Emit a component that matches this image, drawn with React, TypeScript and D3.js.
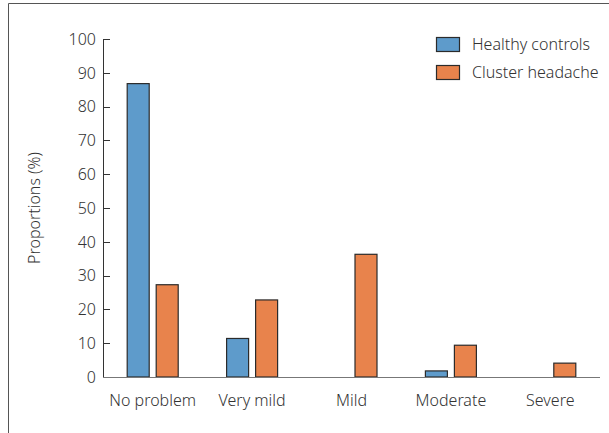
import React from "react";
import * as d3 from "d3";

const categories = ["No problem", "Very mild", "Mild", "Moderate", "Severe"];
const seriesNames = ["Healthy controls", "Cluster headache"];
const healthyControls = [86.8, 11.4, 0, 1.8, 0];
const clusterHeadache = [27.3, 22.8, 36.3, 9.4, 4.1];
const yTicks = [0, 10, 20, 30, 40, 50, 60, 70, 80, 90, 100];
const colors = ["#5E9BCB", "#E8834C"];

const W = 609;
const H = 433;
const FONT = "'Noto Sans', sans-serif";

export default function App() {
  const x0 = d3.scaleBand<string>().domain(categories).range([103, 600]).paddingInner(0).paddingOuter(0);
  const y = d3.scaleLinear().domain([0, 100]).range([377, 39]);
  const barW = 22;
  const gap = 7;
  const series = [healthyControls, clusterHeadache];

  return (
    <svg width={W} height={H} style={{ position: "absolute", left: 0, top: 0 }} fontFamily={FONT}>
      <rect x={0} y={0} width={W} height={H} fill="#fff" />
      {/* frame */}
      <line x1={8.5} y1={3.5} x2={W} y2={3.5} stroke="#555" strokeWidth={1} />
      <line x1={8.5} y1={3.5} x2={8.5} y2={H} stroke="#555" strokeWidth={1} />

      {/* y axis */}
      <line x1={103.5} y1={y(100)} x2={103.5} y2={y(0)} stroke="#333" strokeWidth={1} />
      {yTicks.map((t) => (
        <g key={t}>
          <line x1={103.5} x2={110} y1={Math.round(y(t)) + 0.5} y2={Math.round(y(t)) + 0.5} stroke="#333" />
          <text x={96} y={y(t)} dy="0.36em" textAnchor="end" fontSize={16} fill="#333" fontWeight={300}>
            {t}
          </text>
        </g>
      ))}
      <text
        transform={`translate(40,${(y(0) + y(100)) / 2}) rotate(-90)`}
        textAnchor="middle"
        fontSize={16}
        fill="#333"
        fontWeight={300}
      >
        Proportions (%)
      </text>

      {/* bars */}
      {categories.map((c, i) => {
        const cx = (x0(c) as number) + x0.bandwidth() / 2;
        return (
          <g key={c}>
            {series.map((s, si) => {
              const v = s[i];
              if (v <= 0) return null;
              const bx = si === 0 ? cx - gap / 2 - barW : cx + gap / 2;
              return (
                <rect
                  key={si}
                  x={bx}
                  y={y(v)}
                  width={barW}
                  height={y(0) - y(v)}
                  fill={colors[si]}
                  stroke="#2b2b2b"
                  strokeWidth={1.2}
                />
              );
            })}
            <text x={cx} y={406} textAnchor="middle" fontSize={16} fill="#333" fontWeight={300}>
              {c}
            </text>
          </g>
        );
      })}

      {/* x axis */}
      <line x1={103} y1={377.5} x2={600} y2={377.5} stroke="#777" strokeWidth={1.2} />

      {/* legend */}
      {seriesNames.map((n, i) => (
        <g key={n} transform={`translate(436,${37 + i * 28})`}>
          <rect x={0.5} y={0.5} width={23} height={14} fill={colors[i]} stroke="#2b2b2b" strokeWidth={1.2} />
          <text x={36} y={7.5} dy="0.36em" fontSize={16} fill="#333" fontWeight={300}>
            {n}
          </text>
        </g>
      ))}
    </svg>
  );
}
